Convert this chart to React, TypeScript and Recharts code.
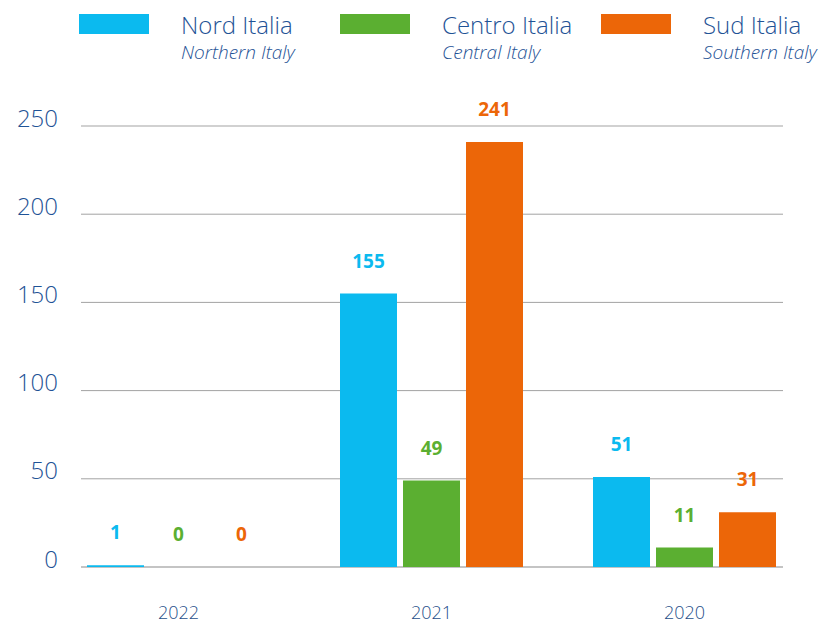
import React from "react";
import {
  BarChart,
  Bar,
  XAxis,
  YAxis,
  CartesianGrid,
  Legend,
  LabelList,
} from "recharts";

const years = ["2022", "2021", "2020"];
const nord = [1, 155, 51];
const centro = [0, 49, 11];
const sud = [0, 241, 31];
const yTicks = [0, 50, 100, 150, 200, 250];

const seriesNames = [
  { key: "nord", it: "Nord Italia", en: "Northern Italy", color: "#0bbaef" },
  { key: "centro", it: "Centro Italia", en: "Central Italy", color: "#5baf31" },
  { key: "sud", it: "Sud Italia", en: "Southern Italy", color: "#ec6608" },
];

const data = years.map((year, i) => ({
  year,
  nord: nord[i],
  centro: centro[i],
  sud: sud[i],
}));

const FONT = "'Open Sans', 'Noto Sans', sans-serif";
const TEXT = "#1f5396";

function renderLegend() {
  return (
    <div style={{ position: "relative", width: 823, height: 70, fontFamily: FONT }}>
      {seriesNames.map((s, i) => (
        <div key={s.key} style={{ position: "absolute", left: 79 + 261 * i, top: 0 }}>
          <div
            style={{
              position: "absolute",
              left: 0,
              top: 14,
              width: 70,
              height: 20,
              background: s.color,
            }}
          />
          <div
            style={{
              position: "absolute",
              left: 102,
              top: 10,
              whiteSpace: "nowrap",
              color: TEXT,
              fontSize: 24,
              fontWeight: 300,
              lineHeight: "30px",
            }}
          >
            {s.it}
          </div>
          <div
            style={{
              position: "absolute",
              left: 102,
              top: 40,
              whiteSpace: "nowrap",
              color: TEXT,
              fontSize: 19,
              fontStyle: "italic",
              fontWeight: 300,
              lineHeight: "24px",
            }}
          >
            {s.en}
          </div>
        </div>
      ))}
    </div>
  );
}

// zero line is thicker and lighter than the other grid lines
function gridLine(props: any) {
  const base = props.y1 > 560;
  return (
    <line
      key={props.key ?? props.y1}
      x1={props.x1}
      x2={props.x2}
      y1={props.y1}
      y2={props.y2}
      stroke={base ? "#c4c4c4" : "#a3a3a3"}
      strokeWidth={base ? 2 : 1}
    />
  );
}

export default function App() {
  return (
    <div style={{ position: "absolute", left: 0, top: 0 }}>
      <BarChart
        width={823}
        height={625}
        data={data}
        margin={{ top: 56, right: 40, bottom: 0, left: 0 }}
        barCategoryGap={35}
        barGap={6}
        barSize={57}
      >
        <Legend
          verticalAlign="top"
          height={70}
          content={renderLegend}
          wrapperStyle={{ top: 0, left: 0, width: 823 }}
        />
        <CartesianGrid vertical={false} horizontal={gridLine} />
        <XAxis
          dataKey="year"
          height={58}
          padding={{ left: -29, right: -28 }}
          tickLine={false}
          tickMargin={33}
          axisLine={false}
          tick={{ fill: "#1f4f8a", fontSize: 18, fontFamily: FONT, fontWeight: 300 }}
        />
        <YAxis
          width={81}
          domain={[0, 250]}
          ticks={yTicks}
          axisLine={false}
          tickLine={false}
          tickMargin={17}
          tick={{ fill: TEXT, fontSize: 24, fontFamily: FONT, fontWeight: 300, dy: -8 }}
        />
        {seriesNames.map((s) => (
          <Bar
            key={s.key}
            dataKey={s.key}
            fill={s.color}
            minPointSize={(v: number) => (v === 0 ? 0.01 : 0)}
            isAnimationActive={false}
          >
            <LabelList
              dataKey={s.key}
              position="top"
              offset={26}
              fill={s.color}
              style={{ fontSize: 19, fontWeight: 700, fontFamily: FONT }}
            />
          </Bar>
        ))}
      </BarChart>
    </div>
  );
}
